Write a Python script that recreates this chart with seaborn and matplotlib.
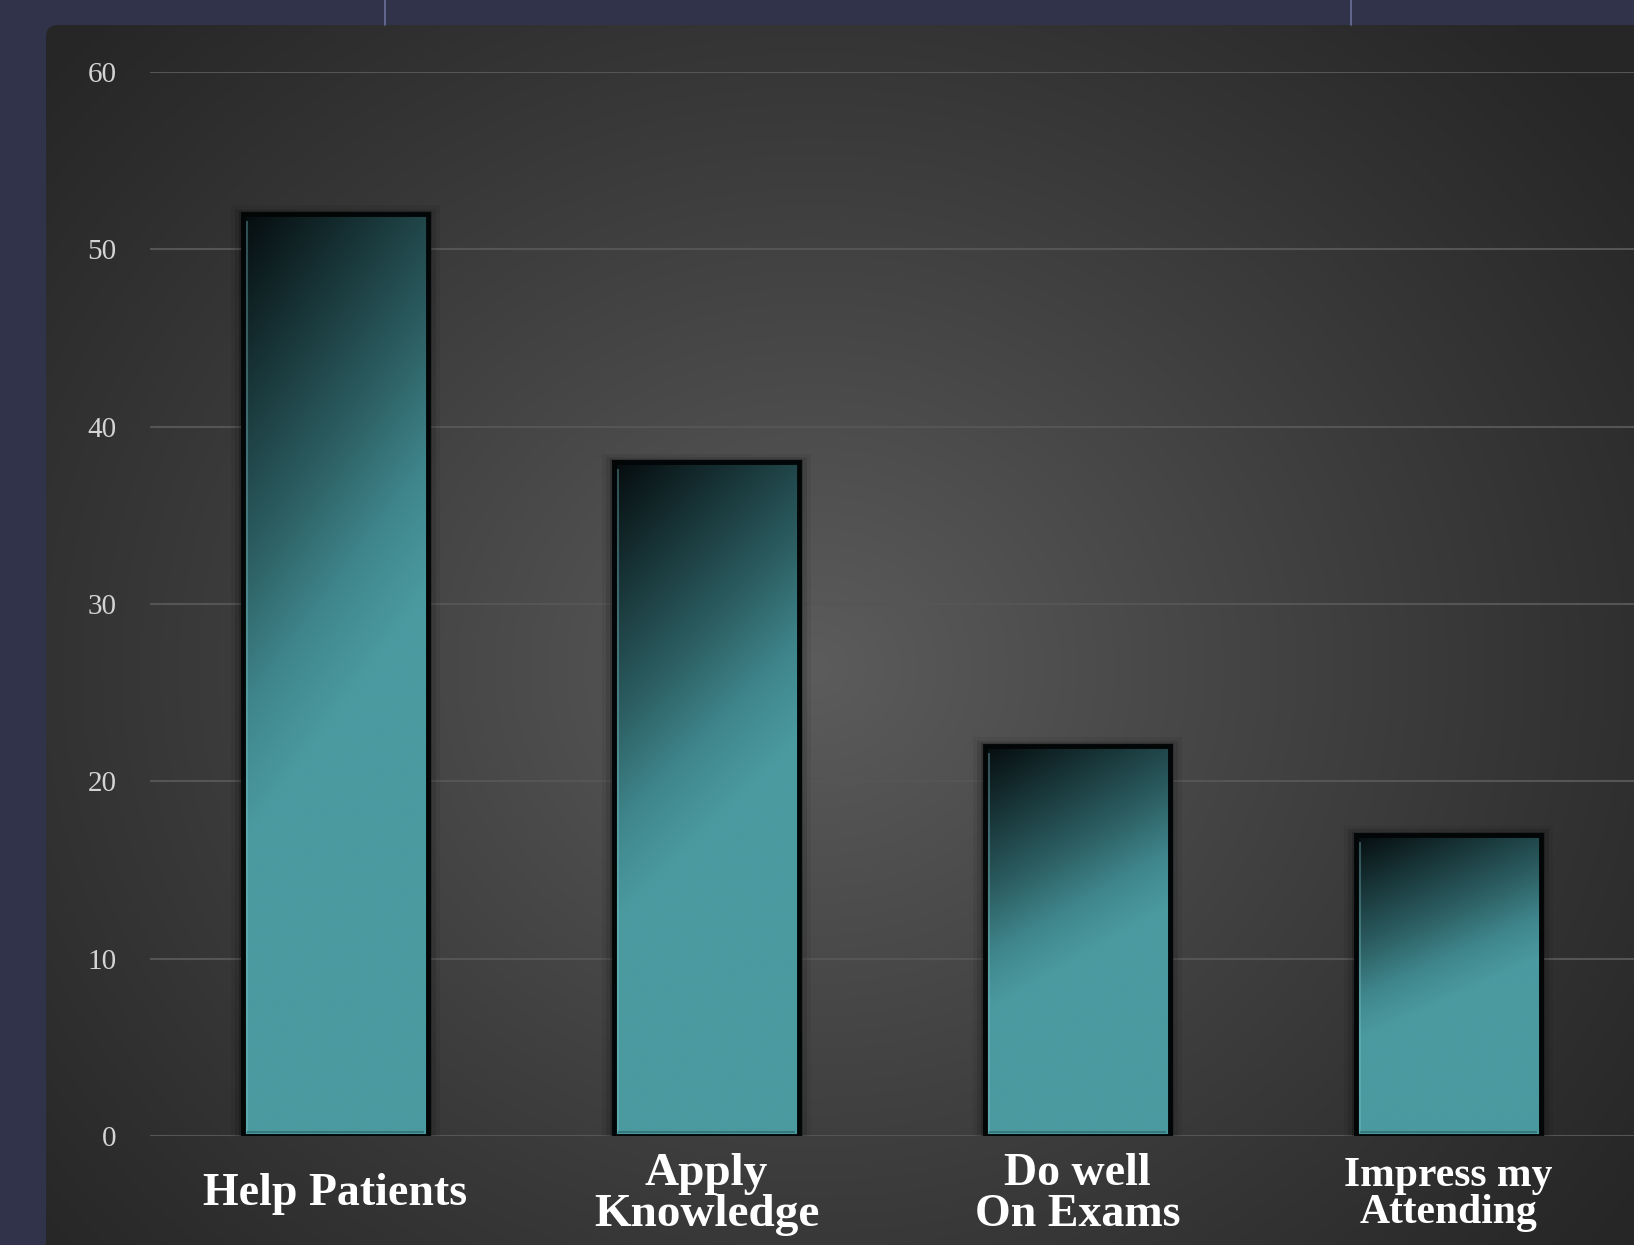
import numpy as np
import pandas as pd
import matplotlib
matplotlib.use("Agg")
import matplotlib.pyplot as plt
import seaborn as sns
from matplotlib.colors import LinearSegmentedColormap
from matplotlib.patches import FancyBboxPatch

# ---- data ----
categories = ["Help Patients", "Apply\nKnowledge", "Do well\nOn Exams", "Impress my\nAttending"]
values = [52, 38, 22, 17]
yticks = [0, 10, 20, 30, 40, 50, 60]

W, H = 1634, 1245
sns.set_theme(style="dark")
plt.rcParams["font.family"] = ["Liberation Serif", "DejaVu Serif"]

fig = plt.figure(figsize=(W / 100, H / 100), dpi=100, facecolor="#30334a")

# ---- slide background ----
bg = fig.add_axes([0, 0, 1, 1])
bg.set_xlim(0, W)
bg.set_ylim(H, 0)
bg.axis("off")
bg.set_facecolor("none")
bg.plot([385.5, 385.5], [0, 25], color="#6c709c", lw=1.2)
bg.plot([1351.5, 1351.5], [0, 25], color="#6c709c", lw=1.2)

yy, xx = np.mgrid[25:1260:3, 46:1640:3]
r = np.sqrt(((xx - 813) / 900.0) ** 2 + ((yy - 667) / 800.0) ** 2)
g = 38 + 54 * np.clip(1 - r / 1.15, 0, 1) ** 1.1
img = np.dstack([g, g, g]) / 255.0
panel = FancyBboxPatch((46, 25), 1650, 1300, boxstyle="round,pad=0,rounding_size=12",
                       transform=bg.transData, facecolor="none", edgecolor="none")
bg.add_patch(panel)
im = bg.imshow(img, extent=(46, 1640, 1260, 25), aspect="auto", interpolation="bilinear")
im.set_clip_path(panel)
bg.set_xlim(0, W)
bg.set_ylim(H, 0)

# ---- chart ----
ax = fig.add_axes([150 / W, (H - 1136) / H, (W - 150) / W, (1136 - 72) / H])
ax.set_facecolor("none")
df = pd.DataFrame({"cat": categories, "val": values})
sns.barplot(data=df, x="cat", y="val", ax=ax, width=0.5, color="#4a9aa0",
            edgecolor="#030606", linewidth=3.5, zorder=3)

cmap = LinearSegmentedColormap.from_list(
    "bar", [(0.0, "#060c0e"), (0.25, "#163033"), (0.55, "#2b5c60"), (0.8, "#3f868c"),
            (1.0, "#4a9aa0")], N=256)
vv, uu = np.mgrid[0:1:300j, 0:1:80j]
tgrad = np.clip(vv / 0.68 + 0.4 * uu, 0, 1)

for p in ax.patches:
    x0, y0 = p.get_x(), p.get_y()
    w, h = p.get_width(), p.get_height()
    # soft shadow
    for k, a in [(0.010, 0.20), (0.020, 0.10), (0.032, 0.06)]:
        sh = plt.Rectangle((x0 - k, y0), w + 2 * k, h + k * 15, facecolor="black",
                           edgecolor="none", alpha=a, zorder=2)
        ax.add_patch(sh)
    p.set_facecolor("none")
    gi = ax.imshow(tgrad, cmap=cmap, vmin=0, vmax=1, extent=(x0, x0 + w, y0, y0 + h),
                   aspect="auto", origin="upper", zorder=2.5, interpolation="bilinear")
    gi.set_clip_path(p)
    # subtle bevel highlight on left and bottom
    ax.plot([x0 + 0.011, x0 + 0.011], [y0 + 0.2, y0 + h - 0.4], color="#7cc4ca",
            lw=1.5, alpha=0.35, zorder=3.5, solid_capstyle="butt")
    ax.plot([x0 + 0.011, x0 + w - 0.011], [y0 + 0.25, y0 + 0.25], color="#2d6266",
            lw=1.5, alpha=0.6, zorder=3.5, solid_capstyle="butt")

ax.set_xlim(-0.5, 3.5)
ax.set_ylim(0, 60)
ax.set_yticks(yticks)
ax.set_xlabel("")
ax.set_ylabel("")
for s in ax.spines.values():
    s.set_visible(False)
ax.grid(False)
for t in yticks:
    ax.axhline(t, color="#555555", lw=1.5, zorder=1)

ax.tick_params(axis="y", length=0, pad=24, labelcolor="#d4d4d4", labelsize=21)
ax.tick_params(axis="x", length=0, pad=42, labelcolor="white")
sizes = [33, 34, 33, 30]
for lbl, fs in zip(ax.get_xticklabels(), sizes):
    lbl.set_fontsize(fs)
    lbl.set_fontweight("bold")
    lbl.set_va("center")
    lbl.set_linespacing(0.98)

fig.savefig("out.png", dpi=100, facecolor=fig.get_facecolor())
